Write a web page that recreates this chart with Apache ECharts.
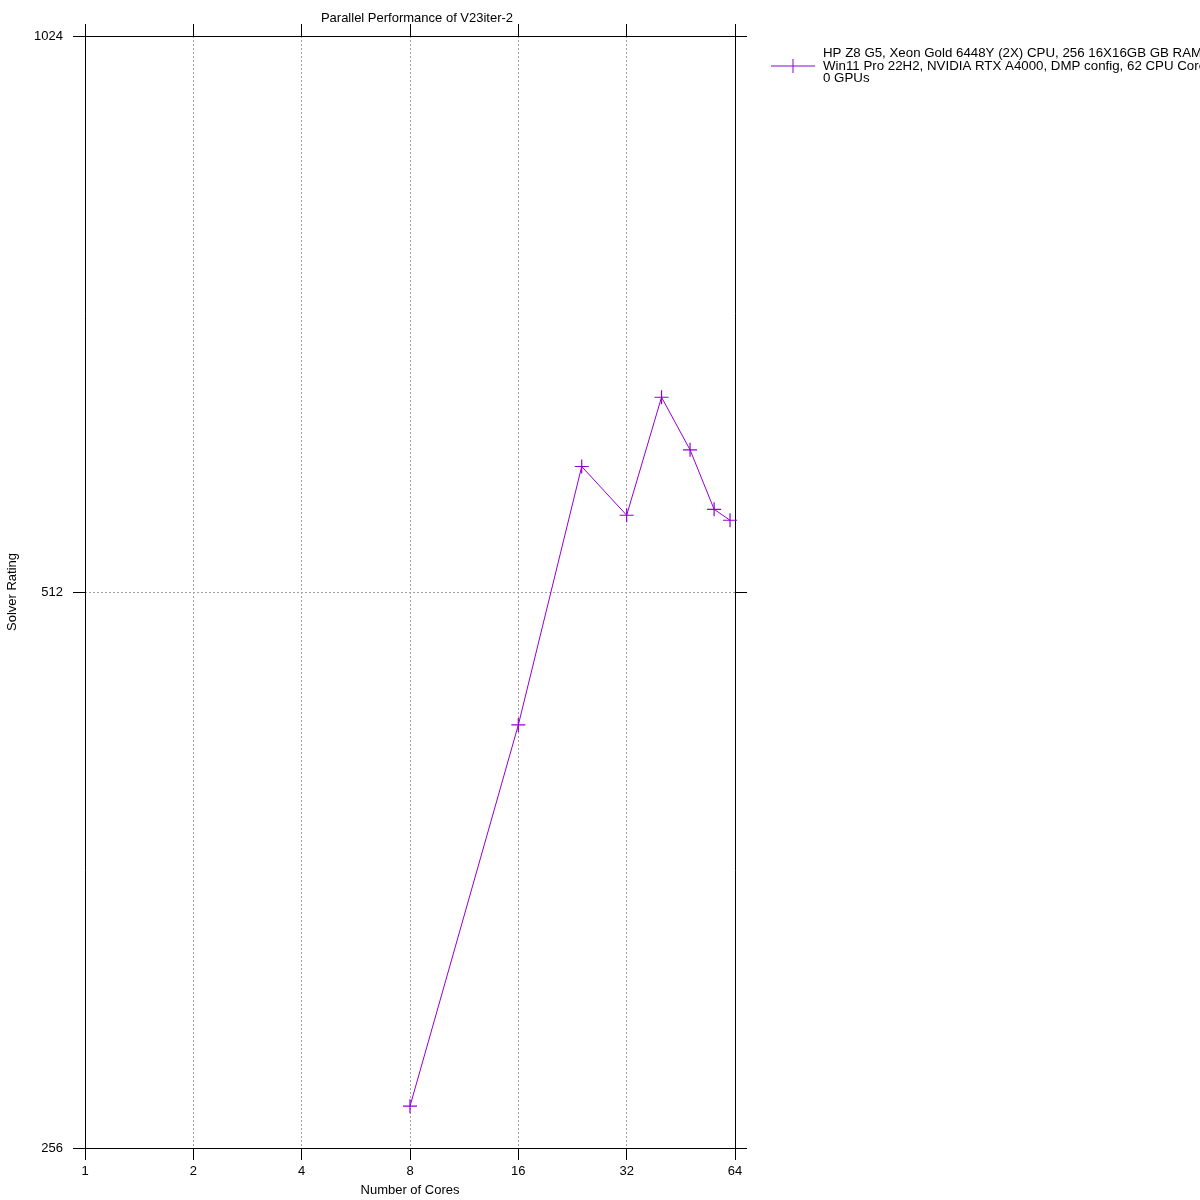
<!DOCTYPE html>
<html>
<head>
<meta charset="utf-8">
<script src="https://cdn.jsdelivr.net/npm/echarts@6/dist/echarts.min.js"></script>
<style>html,body{margin:0;padding:0;background:#fff}#c{width:1200px;height:1200px}</style>
</head>
<body>
<div id="c"></div>
<script>
const cores = [8, 16, 24, 32, 40, 48, 56, 62];
const rating = [269.7, 433.8, 598.7, 563.4, 652.7, 611.3, 567.6, 559.9];
const xTickLabels = ['1', '2', '4', '8', '16', '32', '64'];
const yTickLabels = ['256', '512', '1024'];
const seriesName = 'HP Z8 G5, Xeon Gold 6448Y (2X) CPU, 256 16X16GB GB RAM,\nWin11 Pro 22H2, NVIDIA RTX A4000, DMP config, 62 CPU Cores,\n0 GPUs';
const titleText = 'Parallel Performance of V23iter-2';
const xName = 'Number of Cores';
const yName = 'Solver Rating';

const FONT = 'Liberation Sans, Arial, sans-serif';
const chart = echarts.init(document.getElementById('c'), null, {renderer: 'canvas'});
const plus = 'path://M-7,-0.6 H7 V0.6 H-7 Z M-0.6,-7 H0.6 V7 H-0.6 Z';
const baseX = {
  type: 'log', logBase: 2, min: 1, max: 64, interval: 1,
  axisLine: {show: true, lineStyle: {color: '#000', width: 1}},
  axisTick: {show: true, length: 12, lineStyle: {color: '#000', width: 1}},
  minorTick: {show: false},
  splitLine: {show: false}
};
const baseY = {
  type: 'log', logBase: 2, min: 256, max: 1024, interval: 1,
  axisLine: {show: true, lineStyle: {color: '#000', width: 1}},
  axisTick: {show: true, length: 12, lineStyle: {color: '#000', width: 1}},
  minorTick: {show: false},
  splitLine: {show: false}
};
function fmtX(v) { const s = String(Math.round(v)); return xTickLabels.includes(s) ? s : ''; }
function fmtY(v) { const s = String(Math.round(v)); return yTickLabels.includes(s) ? s : ''; }
chart.setOption({
  animation: false,
  backgroundColor: '#fff',
  title: {
    text: titleText, left: 412, top: 7, textAlign: 'center',
    textStyle: {fontFamily: FONT, fontSize: 13, fontWeight: 'normal', color: '#000'}
  },
  legend: {
    left: 771, top: 47, orient: 'vertical', padding: 0,
    itemWidth: 44, itemHeight: 14, itemGap: 5,
    icon: 'path://M0,6.5 H44 V7.5 H0 Z M21.5,0 H22.5 V14 H21.5 Z',
    textStyle: {fontFamily: FONT, fontSize: 13.3, color: '#000', lineHeight: 12.5, padding: [0, 0, 0, 3]},
    data: [seriesName]
  },
  grid: {left: 85, right: 465, top: 36, bottom: 52, containLabel: false, outerBoundsMode: 'none'},
  xAxis: [
    Object.assign({}, baseX, {
      position: 'bottom',
      name: xName, nameLocation: 'middle', nameGap: 36,
      nameTextStyle: {fontFamily: FONT, fontSize: 13, color: '#000'},
      axisLabel: {show: true, margin: 17, fontFamily: FONT, fontSize: 13, color: '#000', formatter: fmtX},
      splitLine: {show: true, lineStyle: {color: '#a0a0a0', type: [2, 2], width: 1}}
    }),
    Object.assign({}, baseX, {position: 'top', axisLabel: {show: false}})
  ],
  yAxis: [
    Object.assign({}, baseY, {
      position: 'left',
      name: yName, nameLocation: 'middle', nameGap: 66,
      nameTextStyle: {fontFamily: FONT, fontSize: 13, color: '#000'},
      axisLabel: {show: true, margin: 22, fontFamily: FONT, fontSize: 13, color: '#000', formatter: fmtY},
      splitLine: {show: true, lineStyle: {color: '#a0a0a0', type: [2, 2], width: 1}}
    }),
    Object.assign({}, baseY, {position: 'right', axisLabel: {show: false}})
  ],
  series: [{
    name: seriesName,
    type: 'line',
    xAxisIndex: 0, yAxisIndex: 0,
    data: cores.map((c, i) => [c, rating[i]]),
    symbol: plus, symbolSize: 14, showSymbol: true,
    lineStyle: {color: '#9400d3', width: 1},
    itemStyle: {color: '#9400d3'},
    z: 5
  }]
});
</script>
</body>
</html>
